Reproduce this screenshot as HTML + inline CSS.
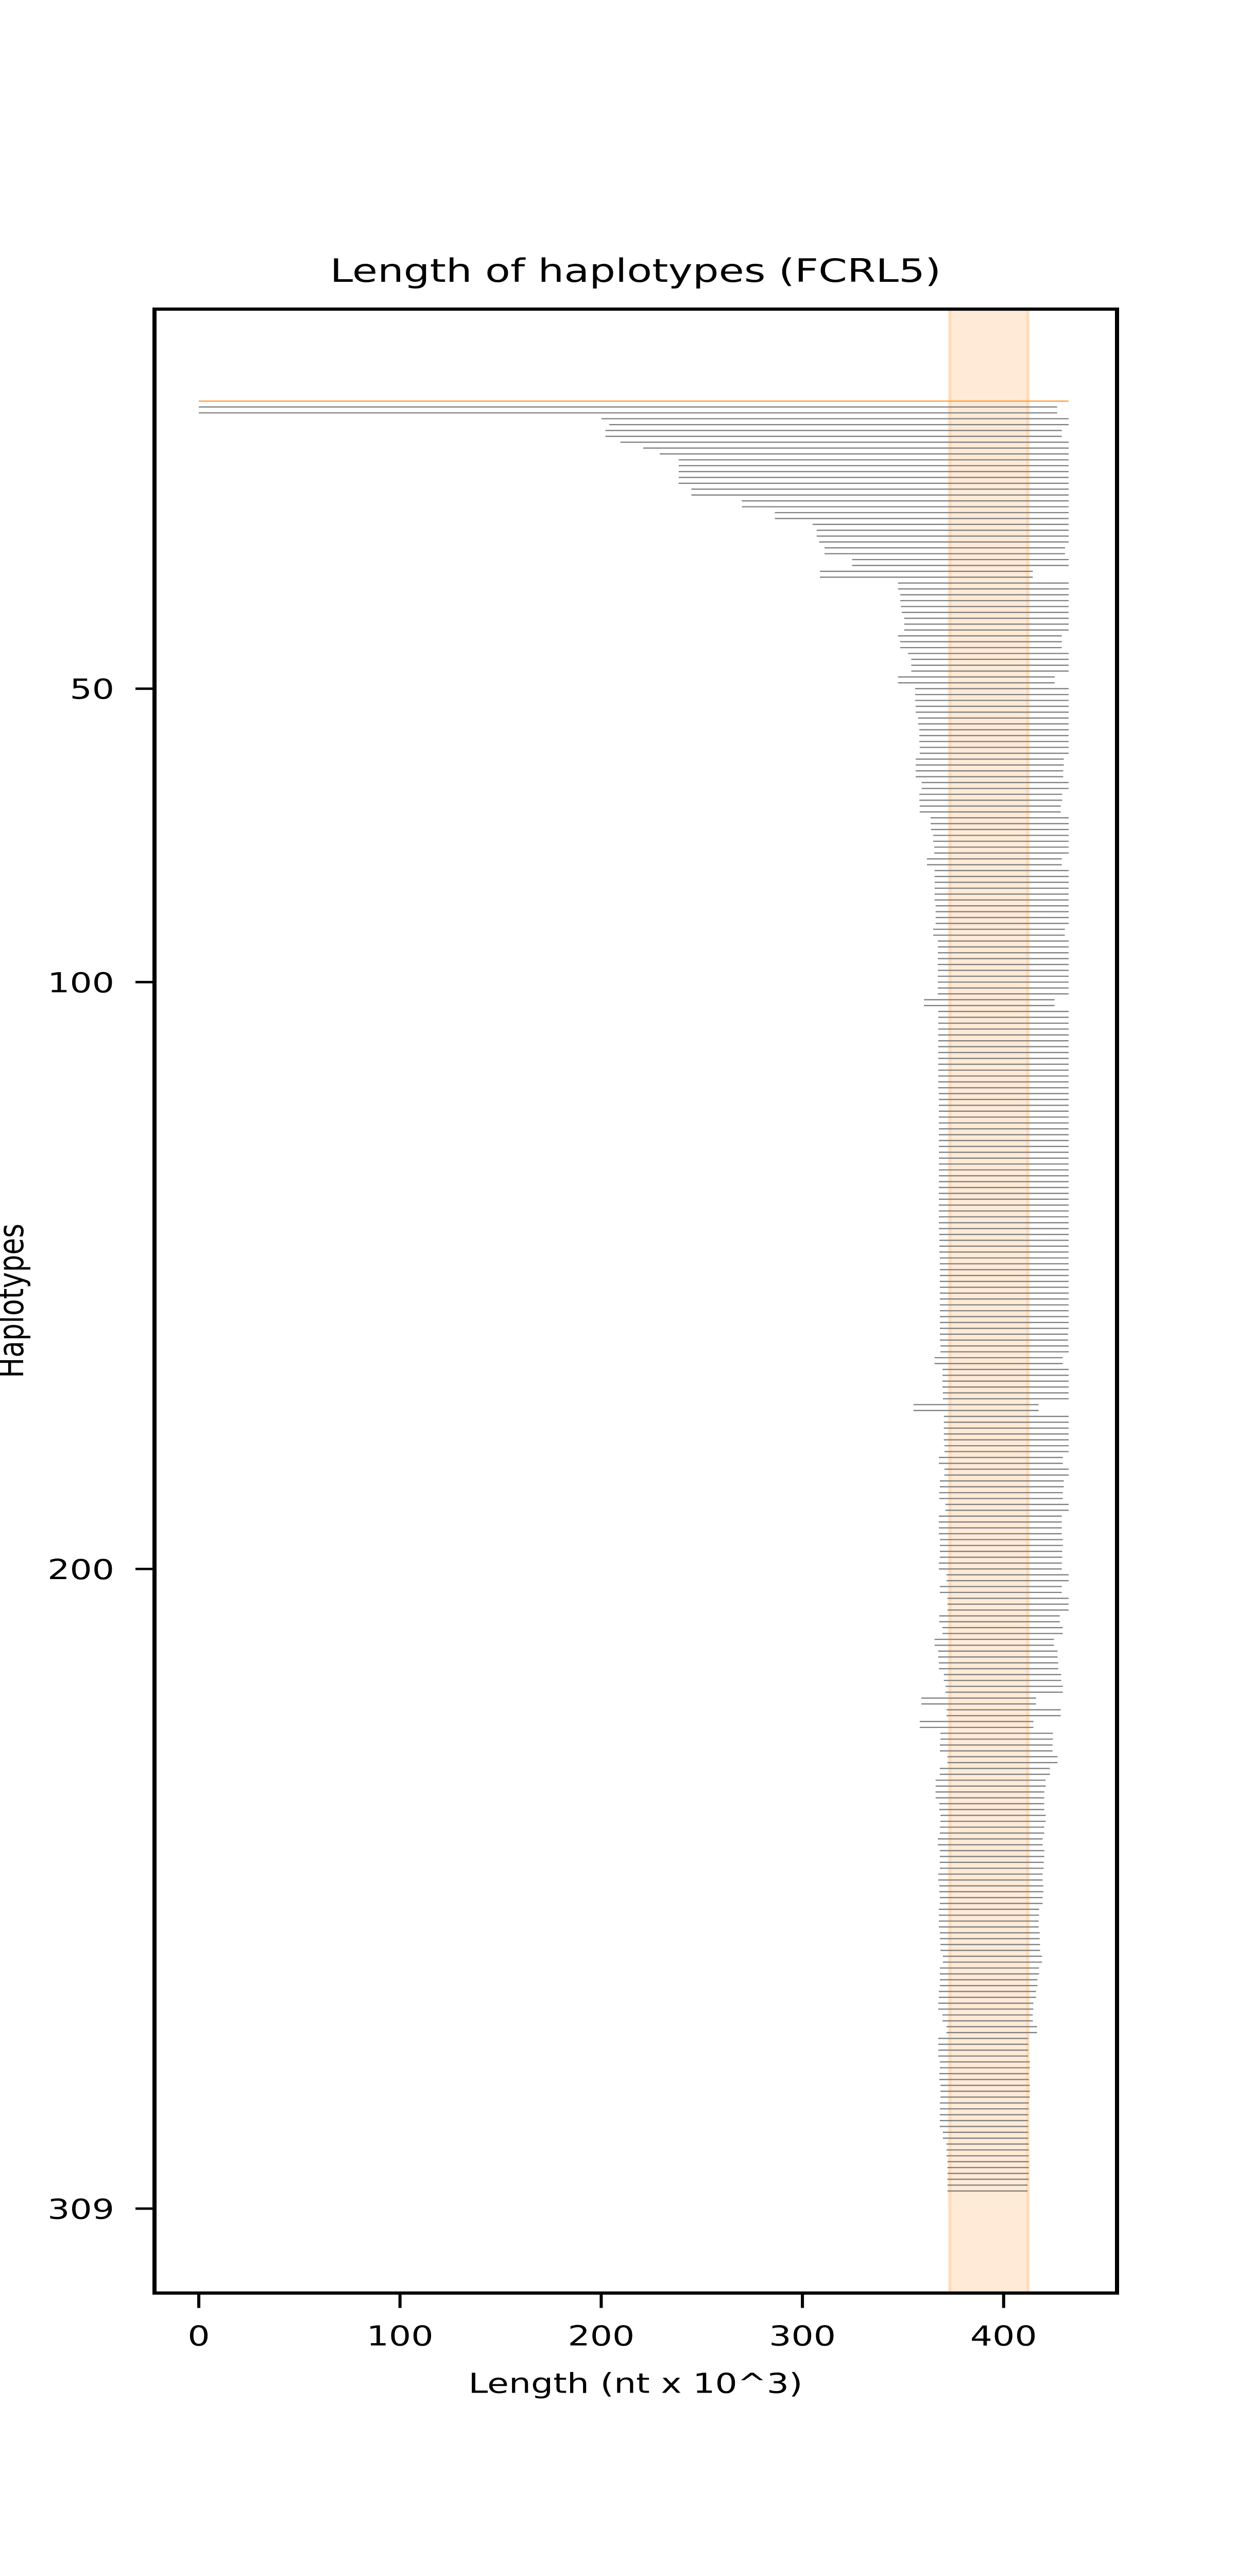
<!DOCTYPE html>
<html><head><meta charset="utf-8"><style>
html,body{margin:0;padding:0;background:#fff;width:100%;height:100%;overflow:hidden;}
svg{display:block;position:fixed;left:0;top:0;width:100vw;height:100vh;}
text{font-family:"DejaVu Sans","Liberation Sans",sans-serif;fill:#000;}
</style></head>
<body>
<svg id="chart" viewBox="0 0 2400 6400" preserveAspectRatio="none" xmlns="http://www.w3.org/2000/svg">
<rect x="0" y="0" width="2400" height="6400" fill="#fff"/>
<text x="1234" y="700" font-size="80" text-anchor="middle">Length of haplotypes (FCRL5)</text>
<g id="plot"></g>
<text x="1234" y="5945" font-size="68" text-anchor="middle">Length (nt x 10^3)</text>
<text x="0" y="0" font-size="68" text-anchor="middle" transform="translate(45,3232) rotate(-90)">Haplotypes</text>
</svg>
<script>
const highlightRow = { start: 0, end: 432.3 };
const bandRange = [372.3, 413.0];
const xTicks = [0, 100, 200, 300, 400];
const yTicks = [50, 100, 200, 309];
const rowStarts = [
0,0,200.1,204.0,202.1,202.1,209.5,220.9,229.1,238.5,
238.5,238.5,238.5,238.5,244.8,244.8,269.9,269.9,286.3,286.3,
305.1,307.1,307.1,308.3,311.0,311.0,324.7,324.7,308.7,308.7,
347.5,347.5,348.6,348.6,349.0,349.4,350.6,350.6,350.6,347.5,
348.6,348.6,352.5,354.1,354.1,354.1,347.5,347.5,356.0,356.0,
356.0,356.3,356.3,357.5,357.5,358.1,358.1,358.1,358.3,358.3,
356.3,356.3,356.3,356.3,359.3,359.3,358.1,358.1,358.3,358.3,
363.7,363.7,363.9,365.0,365.0,365.5,365.5,361.9,361.9,365.7,
365.7,365.7,365.7,365.7,365.7,366.2,366.2,366.2,366.2,365.0,
365.0,367.3,367.3,367.3,367.3,367.3,367.3,367.3,367.3,367.3,
367.3,360.4,360.4,367.5,367.5,367.5,367.5,367.5,367.5,367.5,
367.5,367.5,367.5,367.5,367.5,367.5,367.5,367.8,367.8,367.8,
367.8,367.8,367.8,367.8,367.8,367.8,367.8,367.8,367.8,367.8,
367.8,367.8,367.8,367.8,367.8,367.8,367.8,367.8,367.8,367.8,
367.8,368.0,368.0,368.0,368.0,368.3,368.3,368.3,368.3,368.3,
368.3,368.3,368.3,368.3,368.3,368.3,368.3,368.3,368.3,368.3,
368.6,368.6,365.7,365.7,369.6,369.6,369.6,369.6,369.8,369.8,
355.2,355.2,370.3,370.3,370.3,370.3,370.3,370.6,370.6,367.8,
367.8,370.6,370.6,368.3,368.3,368.0,368.0,371.1,371.1,367.8,
367.8,367.8,367.8,368.3,368.3,368.3,368.3,367.8,367.8,371.6,
371.6,368.3,368.3,372.1,372.1,372.1,368.0,368.0,369.6,369.6,
365.7,365.7,367.5,367.5,367.8,367.8,370.3,370.3,371.1,371.1,
359.1,359.1,371.6,371.6,358.3,358.3,368.6,368.6,368.3,368.3,
372.1,372.1,368.3,368.3,366.2,366.2,366.2,366.2,368.0,368.0,
368.6,368.6,368.3,368.3,367.3,367.3,368.3,368.3,368.3,368.3,
367.5,367.5,368.0,368.0,368.3,368.3,367.8,367.8,367.8,367.8,
368.3,368.3,368.6,368.6,369.8,369.8,368.3,368.3,368.3,368.3,
367.8,367.8,367.5,367.5,369.6,369.6,371.6,371.6,367.5,367.5,
367.5,367.5,368.3,368.3,368.0,368.0,368.6,368.6,368.6,368.3,
368.3,368.3,368.3,368.3,369.8,369.8,371.6,371.6,371.6,372.1,
372.1,372.1,372.1,372.1,372.1
];
const rowEnds = [
426.6,426.6,432.3,432.3,428.9,428.9,432.3,432.3,432.3,432.3,
432.3,432.3,432.3,432.3,432.3,432.3,432.3,432.3,432.3,432.3,
432.3,432.3,432.3,432.3,430.5,430.5,432.3,432.3,414.5,414.5,
432.3,432.3,432.3,432.3,432.3,432.3,432.3,432.3,432.3,428.9,
428.9,428.9,432.3,432.3,432.3,432.3,425.4,425.4,432.3,432.3,
432.3,432.3,432.3,432.3,432.3,432.3,432.3,432.3,432.3,432.3,
429.9,429.9,429.6,429.6,432.3,432.3,429.1,429.1,428.4,428.4,
432.3,432.3,432.3,432.3,432.3,432.3,432.3,428.9,428.9,432.3,
432.3,432.3,432.3,432.3,432.3,432.3,432.3,432.3,432.3,430.4,
430.4,432.3,432.3,432.3,432.3,432.3,432.3,432.3,432.3,432.3,
432.3,425.3,425.3,432.3,432.3,432.3,432.3,432.3,432.3,432.3,
432.3,432.3,432.3,432.3,432.3,432.3,432.3,432.3,432.3,432.3,
432.3,432.3,432.3,432.3,432.3,432.3,432.3,432.3,432.3,432.3,
432.3,432.3,432.3,432.3,432.3,432.3,432.3,432.3,432.3,432.3,
432.3,432.3,432.3,432.3,432.3,432.3,432.3,432.3,432.3,432.3,
432.3,432.3,432.3,432.3,432.3,432.3,432.3,432.3,432.0,432.0,
432.3,432.3,429.4,429.4,432.3,432.3,432.3,432.3,432.3,432.3,
417.4,417.4,432.3,432.3,432.3,432.3,432.3,432.3,432.3,429.4,
429.4,432.3,432.3,429.9,429.9,429.4,429.4,432.3,432.3,428.9,
428.9,428.9,428.9,429.4,429.4,429.1,429.1,428.9,428.9,432.3,
432.3,428.9,428.9,432.3,432.3,432.3,427.9,427.9,429.4,429.4,
425.0,425.0,426.8,426.8,427.1,427.1,428.6,428.6,429.4,429.4,
416.1,416.1,428.4,428.4,414.8,414.8,424.5,424.5,424.3,424.3,
426.8,426.8,423.0,423.0,420.9,420.9,420.2,420.2,420.2,420.2,
420.9,420.9,420.2,420.2,419.4,419.4,420.2,420.2,419.9,419.9,
419.4,419.4,419.7,419.7,419.4,419.4,417.6,417.6,417.4,417.4,
417.9,417.9,418.1,418.1,419.1,419.1,417.6,417.6,416.8,416.8,
416.1,416.1,414.8,414.8,414.5,414.5,416.6,416.6,412.2,412.2,
412.2,412.2,413.0,413.0,412.5,412.5,413.0,413.0,413.0,412.5,
412.5,412.2,412.2,412.2,412.2,412.2,412.5,412.5,412.5,412.5,
412.5,412.5,412.5,411.9,411.9
];

const NS = "http://www.w3.org/2000/svg";
const plot = document.getElementById('plot');
const AX_L = 300, AX_R = 2169, AX_T = 768, AX_B = 5697;
function xScale(u){ return 386 + u * 3.907; }
function yScale(v){ return 1711 + (v - 50) * 14.58; }
function mk(tag, attrs){ const e = document.createElementNS(NS, tag); for (const k in attrs) e.setAttribute(k, attrs[k]); plot.appendChild(e); return e; }

const bx0 = xScale(bandRange[0]), bx1 = xScale(bandRange[1]);
let band = mk('rect', {x: bx0, y: AX_T, width: bx1 - bx0, height: AX_B - AX_T, fill: '#feead6'});


let be1 = mk('rect', {x: bx0 + 2, y: AX_T, width: 5, height: AX_B - AX_T, fill: '#fedcb9'});


let be2 = mk('rect', {x: bx1 - 7, y: AX_T, width: 5, height: AX_B - AX_T, fill: '#fedcb9'});



let hl = mk('line', {x1: xScale(highlightRow.start), x2: xScale(highlightRow.end), y1: yScale(1), y2: yScale(1), stroke: '#ff9d3c', 'stroke-width': 3});



for (let i = 0; i < rowStarts.length; i++) {
  const y = yScale(i + 2);
  const ln = mk('line', {x1: xScale(rowStarts[i]), x2: xScale(rowEnds[i]), y1: y, y2: y, stroke: '#808080', 'stroke-width': 3});
  
  
}

let fr = mk('rect', {x: AX_L, y: AX_T, width: AX_R - AX_L, height: AX_B - AX_T, fill: 'none', stroke: '#000', 'stroke-width': 8});



xTicks.forEach(t => {
  const x = xScale(t);
  const tk = mk('line', {x1: x, x2: x, y1: AX_B, y2: AX_B + 37, stroke: '#000', 'stroke-width': 6});
  
  
  const lb = mk('text', {x: x, y: 5827, 'font-size': 68, 'text-anchor': 'middle'});
  lb.textContent = String(t);
  
  
});

yTicks.forEach(t => {
  const y = yScale(t);
  const tk = mk('line', {x1: AX_L - 37, x2: AX_L, y1: y, y2: y, stroke: '#000', 'stroke-width': 6});
  
  
  const lb = mk('text', {x: 222, y: y + 25, 'font-size': 68, 'text-anchor': 'end'});
  lb.textContent = String(t);
  
  
});
</script>
</body></html>
